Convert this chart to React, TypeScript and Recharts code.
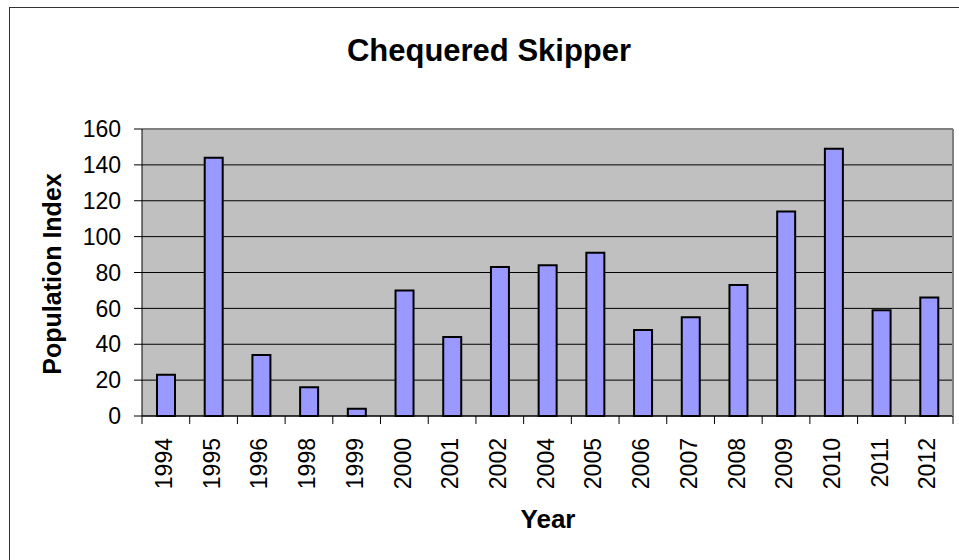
import { BarChart, Bar, XAxis, YAxis, CartesianGrid, ReferenceLine } from 'recharts';

const years = ['1994', '1995', '1996', '1998', '1999', '2000', '2001', '2002', '2004', '2005', '2006', '2007', '2008', '2009', '2010', '2011', '2012'];
const populationIndex = [23, 144, 34, 16, 4, 70, 44, 83, 84, 91, 48, 55, 73, 114, 149, 59, 66];
const yTicks = [0, 20, 40, 60, 80, 100, 120, 140, 160];

const data = years.map((year, i) => ({ year, value: populationIndex[i] }));

const FONT = 'Arial, "Liberation Sans", sans-serif';
const WIDTH = 959;
const HEIGHT = 560;
const PLOT_LEFT = 142;
const PLOT_RIGHT = 953;
const PLOT_TOP = 129;
const AXIS_Y = 416;
const BAND = (PLOT_RIGHT - PLOT_LEFT) / years.length;

function YearTick(props: any) {
  const { x, index, payload } = props;
  const left = x - BAND / 2;
  return (
    <g>
      <line x1={left} y1={AXIS_Y} x2={left} y2={AXIS_Y + 8} stroke="#000" strokeWidth={1} />
      {index === years.length - 1 && (
        <line x1={left + BAND} y1={AXIS_Y} x2={left + BAND} y2={AXIS_Y + 8} stroke="#000" strokeWidth={1} />
      )}
      <g transform={`translate(${x},${AXIS_Y + 22})`}>
        <text transform="rotate(-90)" textAnchor="end" dy="0.27em" fontSize={23} fontFamily={FONT} fill="#000">
          {payload.value}
        </text>
      </g>
    </g>
  );
}

export default function App() {
  return (
    <div style={{ position: 'absolute', left: 0, top: 0, width: WIDTH, height: HEIGHT, background: '#fff' }}>
      <BarChart
        width={WIDTH}
        height={HEIGHT}
        data={data}
        margin={{ top: PLOT_TOP, right: 0, left: 0, bottom: 0 }}
      >
        <rect x={9.5} y={7.5} width={1000} height={1000} fill="none" stroke="#333" strokeWidth={1} />
        <text x={489} y={61} textAnchor="middle" fontSize={31} fontWeight="bold" fontFamily={FONT} fill="#000">
          Chequered Skipper
        </text>
        <text
          x={61}
          y={274}
          transform="rotate(-90 61 274)"
          textAnchor="middle"
          fontSize={25}
          fontWeight="bold"
          fontFamily={FONT}
          fill="#000"
        >
          Population Index
        </text>
        <text x={548} y={528} textAnchor="middle" fontSize={26} fontWeight="bold" fontFamily={FONT} fill="#000">
          Year
        </text>
        <CartesianGrid vertical={false} fill="#C0C0C0" fillOpacity={1} stroke="#000" strokeWidth={1} />
        <XAxis
          dataKey="year"
          height={HEIGHT - AXIS_Y}
          interval={0}
          tickLine={false}
          axisLine={{ stroke: '#000', strokeWidth: 1 }}
          tick={<YearTick />}
        />
        <YAxis
          width={PLOT_LEFT}
          domain={[0, 160]}
          ticks={yTicks}
          interval={0}
          tickSize={8}
          tickMargin={13}
          tickLine={{ stroke: '#000' }}
          axisLine={{ stroke: '#000', strokeWidth: 1 }}
          tick={{ fill: '#000', fontSize: 23, fontFamily: FONT }}
        />
        <YAxis
          yAxisId="frame"
          orientation="right"
          width={WIDTH - PLOT_RIGHT}
          tick={false}
          tickLine={false}
          axisLine={{ stroke: '#808080', strokeWidth: 2 }}
        />
        <ReferenceLine y={160} stroke="#808080" strokeWidth={2} />
        <Bar dataKey="value" fill="#9999FF" stroke="#000" strokeWidth={2} barSize={18} isAnimationActive={false} />
      </BarChart>
    </div>
  );
}
